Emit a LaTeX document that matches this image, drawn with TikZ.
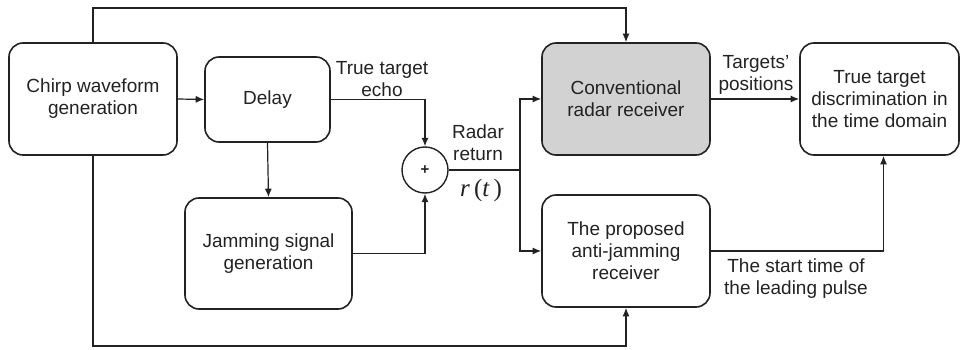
\documentclass[tikz,border=0pt]{standalone}
\usepackage{fontspec}
\setmainfont{Liberation Sans}
\newfontfamily\serifr{Liberation Serif}
\usetikzlibrary{arrows.meta}
\definecolor{ink}{HTML}{222222}
\definecolor{boxgray}{HTML}{D2D2D2}
\begin{document}
\begin{tikzpicture}[x=1pt,y=-1pt,
  every node/.style={text=ink},
  txt/.style={font=\fontsize{19}{22}\selectfont, align=center, inner sep=0pt},
  blk/.style={txt, draw=ink, line width=1.6pt, rounded corners=14pt},
  conn/.style={draw=ink, line width=1.2pt},
  arr/.style={conn, -{Latex[length=8.5pt,width=7pt]}}]
\useasboundingbox (0,0) rectangle (961,350);
\node[blk, minimum width=168pt, minimum height=112pt] (chirp) at (93,99) {Chirp waveform\\generation};
\node[blk, minimum width=125pt, minimum height=85pt] (delay) at (267.5,99.5) {Delay};
\node[blk, minimum width=167pt, minimum height=111pt] (jam) at (268.5,253.5) {Jamming signal\\generation};
\node[draw=ink, line width=1.4pt, circle, minimum size=46pt, inner sep=0pt, font=\bfseries\fontsize{15}{16}\selectfont] (sum) at (425,170) {+};
\node[blk, fill=boxgray, minimum width=168pt, minimum height=112pt] (conv) at (626,99) {Conventional\\radar receiver};
\node[blk, minimum width=159pt, minimum height=112pt] (true) at (879.5,99) {True target\\discrimination in\\the time domain};
\node[blk, minimum width=168pt, minimum height=112pt] (prop) at (626,251) {The proposed\\anti-jamming\\receiver};
% labels
\node[txt] (lecho) at (382,79) {True target\\echo};
\node[txt] (lradar) at (478,143) {Radar\\return};
\node[inner sep=0pt, font=\serifr\fontsize{25}{28}\selectfont] (lrt) at (481,190) {\itshape r\,\upshape(\itshape t\,\upshape)};
\node[txt] (lpos) at (756,75) {Targets'\\positions};
\node[txt] (lstart) at (796,279) {The start time of\\the leading pulse};
% connectors
\coordinate (branch) at (520,170);
\draw[arr] (chirp.north) -- (chirp.north |- 0,8) -| (conv.north);
\draw[arr] (chirp.east) -- (delay.west);
\draw[arr] (delay.east) -| (sum.north);
\draw[arr] (delay.south) -- (jam.north);
\draw[arr] (jam.east) -| (sum.south);
\draw[conn] (sum.east) -- (branch);
\draw[arr] (branch) |- (conv.west);
\draw[arr] (branch) |- (prop.west);
\draw[arr] (conv.east) -- (true.west);
\draw[arr] (prop.east) -| ([xshift=4pt]true.south);
\draw[arr] (chirp.south) -- (chirp.south |- 0,346) -| (prop.south);
\end{tikzpicture}
\end{document}
